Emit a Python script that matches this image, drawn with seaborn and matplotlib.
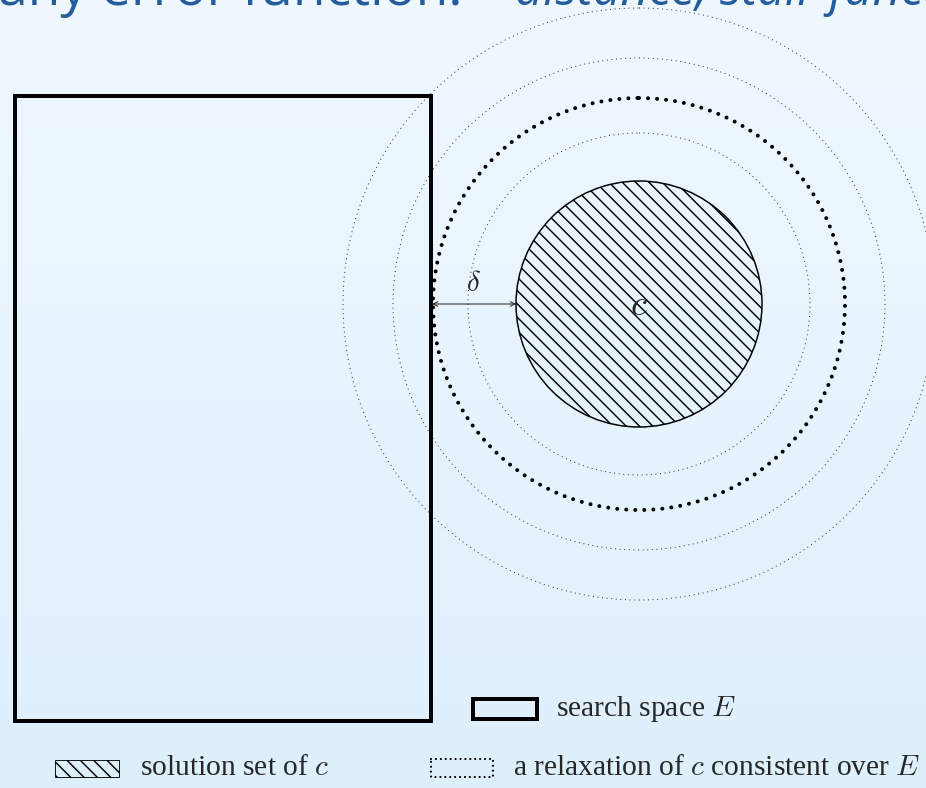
import numpy as np
import matplotlib
matplotlib.use("Agg")
import matplotlib.pyplot as plt
import matplotlib.patches as mpatches
import seaborn as sns

# ---- canvas ----
W, H, DPI = 926, 788, 80

# ---- content ----
title_plain = "any error function:"
title_italic = "distance, stair functions"
center = (639, 304)
radius_solution = 123
radius_relax = 206
radii_levels = [171, 246, 296]
search_space = (14.5, 96, 416.5, 624.5)      # x, y, width, height
delta_span = (432, 516)
label_c = "$c$"
label_delta = r"$\delta$"
legend_labels = ["search space $E$",
                 "solution set of $c$",
                 "a relaxation of $c$ consistent over $E$"]

sns.set_style("white")
plt.rcParams["font.family"] = ["Liberation Serif", "DejaVu Serif"]
plt.rcParams["mathtext.fontset"] = "cm"
plt.rcParams["hatch.linewidth"] = 1.3

fig = plt.figure(figsize=(W / DPI, H / DPI), dpi=DPI)
ax = fig.add_axes([0, 0, 1, 1])
ax.set_xlim(0, W)
ax.set_ylim(H, 0)
ax.set_aspect("equal")
ax.axis("off")

# background gradient
top = np.array([240, 248, 255]) / 255
bot = np.array([222, 239, 252]) / 255
t = np.linspace(0, 1, 256)[:, None]
grad = (top[None, :] * (1 - t) + bot[None, :] * t)[:, None, :]
ax.imshow(grad, extent=[0, W, H, 0], aspect="auto", zorder=0)

# title (cut at top edge, as in the reference)
tcol = "#245d9c"
ax.text(-2, 5, title_plain, fontsize=48, color=tcol, family="Open Sans",
        va="baseline", ha="left", zorder=5)
ax.text(515, 5, title_italic, fontsize=44, color=tcol, family="Open Sans",
        style="italic", va="baseline", ha="left", zorder=5)

# search space
sx, sy, sw, sh = search_space
ax.add_patch(mpatches.Rectangle((sx, sy), sw, sh, fill=False, lw=3.6,
                                edgecolor="black", joinstyle="miter", zorder=3))

# level circles (fine dotted)
for r in radii_levels:
    ax.add_patch(mpatches.Circle(center, r, fill=False, edgecolor="#333333",
                                 lw=0.9, linestyle=(0, (1, 3.6)), zorder=2))

# relaxation (bold dotted)
ax.add_patch(mpatches.Circle(center, radius_relax, fill=False, edgecolor="black",
                             lw=3.6, linestyle=(0, (0.01, 2.25)),
                             capstyle="round", zorder=2))

# solution set (hatched)
ax.add_patch(mpatches.Circle(center, radius_solution, facecolor="none",
                             edgecolor="black", hatch="\\\\", lw=1.35, zorder=3))
ax.text(center[0], center[1] + 2, label_c, fontsize=33, ha="center", va="center",
        zorder=4)

# delta arrow
ax.annotate("", xy=(delta_span[0], center[1]), xytext=(delta_span[1], center[1]),
            arrowprops=dict(arrowstyle="<->", lw=0.9, color="#222222",
                            shrinkA=0, shrinkB=0, mutation_scale=10), zorder=4)
ax.text((delta_span[0] + delta_span[1]) / 2 - 1, 284, label_delta, fontsize=26,
        ha="center", va="center", zorder=4)

# legend
fs = 26.5
ax.add_patch(mpatches.Rectangle((472.7, 699.3), 64, 20, fill=False, lw=3.6,
                                edgecolor="black", joinstyle="miter", zorder=3))
ax.text(556, 709, legend_labels[0], fontsize=fs, ha="left", va="center")

ax.add_patch(mpatches.Rectangle((55, 760), 64, 17, facecolor="none",
                                edgecolor="black", hatch="\\\\", lw=0.8, zorder=3))
ax.text(140, 768, legend_labels[1], fontsize=fs, ha="left", va="center")

ax.add_patch(mpatches.Rectangle((431, 759), 62, 18, fill=False, lw=2.0,
                                edgecolor="black", linestyle=(0, (0.01, 2.2)),
                                capstyle="round", zorder=3))
ax.text(513, 768, legend_labels[2], fontsize=fs, ha="left", va="center")

fig.savefig("out.png", dpi=DPI)
